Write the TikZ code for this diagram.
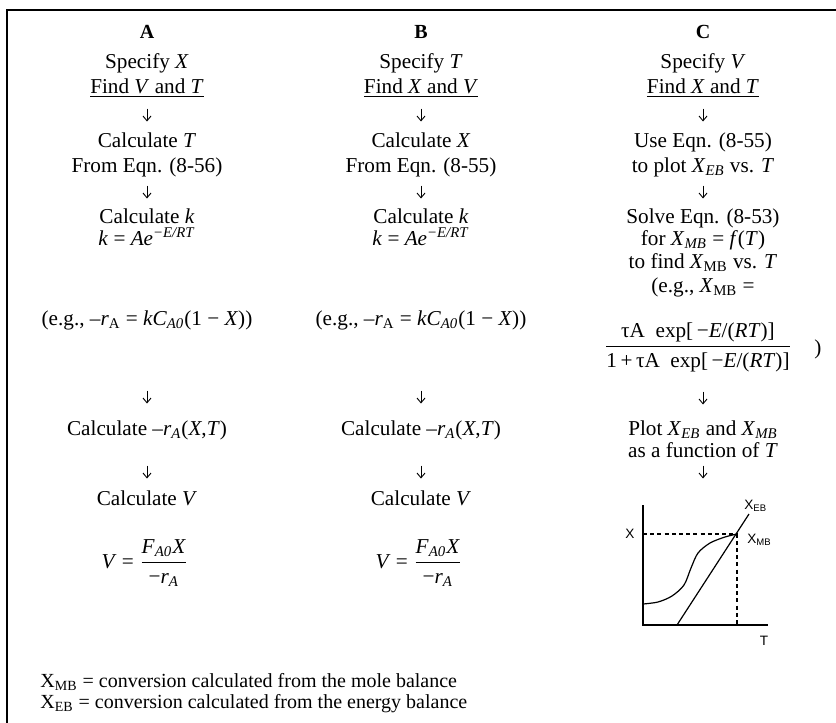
\documentclass[tikz,border=0pt]{standalone}
\usepackage{fontspec}
\setmainfont{Liberation Serif}
\newfontfamily\graphfont{Liberation Sans}
\usetikzlibrary{arrows.meta}
\newcommand{\ital}[1]{\textit{#1}}
\newcommand{\lo}[1]{\textsubscript{#1}}
\newcommand{\hi}[1]{\textsuperscript{#1}}
\newcommand{\flowarrow}[3]{%
  \coordinate (#1s) at (#2,#3-6.5);
  \coordinate (#1e) at (#2,#3+6.5);
  \draw[flowarr] (#1s) -- (#1e);}
\tikzset{
  txt/.style={anchor=base, inner sep=0pt, font=\fontsize{10.6}{12.5}\selectfont},
  legend/.style={anchor=base west, inner sep=0pt, font=\fontsize{10}{12}\selectfont},
  head/.style={anchor=base, inner sep=0pt, font=\fontsize{10}{12}\selectfont\bfseries},
  flowarr/.style={-{Straight Barb[length=2.4pt,width=4pt]}, line width=0.45pt},
  frame/.style={line width=0.8pt},
  gline/.style={line width=0.6pt},
  gdash/.style={gline, dash pattern=on 2pt off 1.6pt},
  glab/.style={inner sep=0pt, font=\graphfont\fontsize{6.8}{8}\selectfont},
}
\begin{document}
\begin{tikzpicture}[x=0.5pt,y=-0.5pt]
\useasboundingbox (0,0) rectangle (836,723);
% frame
\draw[frame] (7,723) -- (7,10) -- (836,10);

% ---------- column A ----------
\node[head] (hA) at (147,38) {A};
\node[txt] (a1) at (147,68) {Specify \ital{X}};
\node[txt] (a2) at (147,93) {\underline{Find \ital{V} and \ital{T}}};
\flowarrow{arA1}{147}{115}
\node[txt] (a3) at (147,147) {Calculate \ital{T}};
\node[txt] (a4) at (147,172) {From Eqn. (8-56)};
\flowarrow{arA2}{147}{192}
\node[txt] (a5) at (147,223) {Calculate \ital{k}};
\node[txt] (a6) at (147,245) {\ital{k} = \ital{Ae}\hi{\ital{−E/RT}}};
\node[txt] (a7) at (147,325) {(e.g., –\ital{r}\lo{A} = \ital{kC}\lo{\ital{A0}}(1 − \ital{X}))};
\flowarrow{arA3}{147}{397}
\node[txt] (a8) at (147,435) {Calculate –\ital{r}\lo{\ital{A}}(\ital{X},\ital{T})};
\flowarrow{arA4}{147}{472}
\node[txt] (a9) at (147,505) {Calculate \ital{V}};
\node[txt] (a10) at (145,568) {\ital{V} = $\displaystyle\frac{\mbox{\ital{F}\lo{\ital{A0}}\ital{X}}}{\mbox{−\ital{r}\lo{\ital{A}}}}$};

% ---------- column B ----------
\node[head] (hB) at (421,38) {B};
\node[txt] (b1) at (421,68) {Specify \ital{T}};
\node[txt] (b2) at (421,93) {\underline{Find \ital{X} and \ital{V}}};
\flowarrow{arB1}{421}{115}
\node[txt] (b3) at (421,147) {Calculate \ital{X}};
\node[txt] (b4) at (421,172) {From Eqn. (8-55)};
\flowarrow{arB2}{421}{192}
\node[txt] (b5) at (421,223) {Calculate \ital{k}};
\node[txt] (b6) at (421,245) {\ital{k} = \ital{Ae}\hi{\ital{−E/RT}}};
\node[txt] (b7) at (421,325) {(e.g., –\ital{r}\lo{A} = \ital{kC}\lo{\ital{A0}}(1 − \ital{X}))};
\flowarrow{arB3}{421}{397}
\node[txt] (b8) at (421,435) {Calculate –\ital{r}\lo{\ital{A}}(\ital{X},\ital{T})};
\flowarrow{arB4}{421}{472}
\node[txt] (b9) at (421,505) {Calculate \ital{V}};
\node[txt] (b10) at (419,568) {\ital{V} = $\displaystyle\frac{\mbox{\ital{F}\lo{\ital{A0}}\ital{X}}}{\mbox{−\ital{r}\lo{\ital{A}}}}$};

% ---------- column C ----------
\node[head] (hC) at (703,38) {C};
\node[txt] (c1) at (703,68) {Specify \ital{V}};
\node[txt] (c2) at (703,93) {\underline{Find \ital{X} and \ital{T}}};
\flowarrow{arC1}{703}{115}
\node[txt] (c3) at (703,147) {Use Eqn. (8-55)};
\node[txt] (c4) at (703,172) {to plot \ital{X}\lo{\ital{EB}} vs. \ital{T}};
\flowarrow{arC2}{703}{192}
\node[txt] (c5) at (703,223) {Solve Eqn. (8-53)};
\node[txt] (c6) at (703,245) {for \ital{X}\lo{\ital{MB}} = \ital{f}(\ital{T})};
\node[txt] (c7) at (703,268) {to find \ital{X}\lo{MB} vs. \ital{T}};
\node[txt] (c8) at (703,292) {(e.g., \ital{X}\lo{MB} =};
\node[txt] (c9) at (698,352) {$\displaystyle\frac{\mbox{τA\enspace exp[\,−\ital{E}/(\ital{RT})]}}{\mbox{1\,+\,τA\enspace exp[\,−\ital{E}/(\ital{RT})]}}$};
\node[txt] (c10) at (818,354) {)};
\flowarrow{arC3}{703}{398}
\node[txt] (c11) at (703,435) {Plot \ital{X}\lo{\ital{EB}} and \ital{X}\lo{\ital{MB}}};
\node[txt] (c12) at (703,457) {as a function of \ital{T}};
\flowarrow{arC4}{703}{472}

% ---------- graph ----------
\draw[gline] (643,505) -- (643,625) -- (768,625);
\draw[gdash] (643,534) -- (737,534) -- (737,625);
\draw[gline] (677,625) -- (749,514);
\draw[gline] plot[smooth] coordinates {(643,604) (658,602) (672,596) (684,585) (691,568) (698,553) (710,543) (725,537) (737,534)};
\node[glab] (gX) at (630,534) {X};
\node[glab, anchor=west] (gEB) at (744,506) {X\lo{EB}};
\node[glab, anchor=west] (gMB) at (747,540) {X\lo{MB}};
\node[glab] (gT) at (764,641) {T};

% ---------- legend ----------
\node[legend] (l1) at (40,687) {X\lo{MB} = conversion calculated from the mole balance};
\node[legend] (l2) at (40,708) {X\lo{EB} = conversion calculated from the energy balance};
\end{tikzpicture}
\end{document}
